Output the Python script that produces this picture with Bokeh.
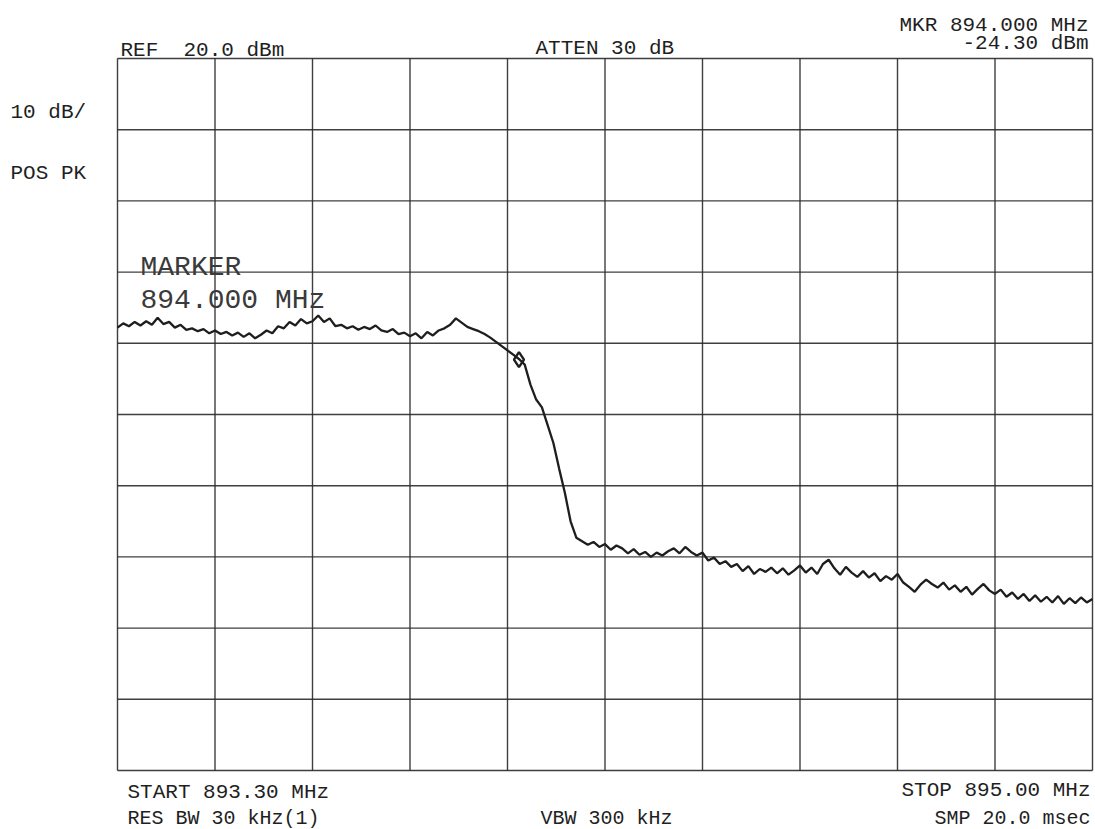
import numpy as np
from bokeh.plotting import figure
from bokeh.models import Range1d, Label
from bokeh.embed import file_html
from bokeh.resources import INLINE

# ---- instrument settings ----
start_mhz = 893.30
stop_mhz = 895.00
ref_dbm = 20.0
db_per_div = 10.0
n_div = 10

# ---- sweep trace, one value every 0.01 MHz ----
freq_mhz = np.round(np.arange(171) * 0.01 + start_mhz, 3)
level_dbm = [
    -17.8, -17.2, -17.6, -17.0, -17.5, -16.9, -17.4, -16.4, -17.3, -17.0,
    -17.8, -17.4, -18.1, -17.9, -18.3, -18.0, -18.6, -18.2, -18.7, -18.4,
    -18.9, -18.5, -19.1, -18.6, -19.3, -18.8, -18.2, -18.6, -17.6, -17.9,
    -17.0, -17.5, -16.6, -17.2, -16.9, -16.1, -17.0, -16.5, -17.6, -17.4,
    -17.9, -17.6, -18.1, -17.7, -18.0, -17.5, -18.2, -18.4, -18.0, -18.7,
    -18.5, -19.0, -18.6, -19.3, -18.4, -18.9, -18.2, -17.9, -17.4, -16.5,
    -17.1, -17.7, -18.0, -18.3, -18.7, -19.2, -19.8, -20.4, -21.0, -21.6,
    -22.2, -23.0, -25.8, -27.9, -29.0, -31.5, -34.0, -37.6, -41.0, -45.0,
    -47.3, -47.8, -48.3, -47.9, -48.6, -48.2, -49.0, -48.4, -48.8, -49.5,
    -48.9, -49.7, -49.3, -50.0, -49.4, -49.8, -49.2, -48.8, -49.5, -48.6,
    -49.3, -49.8, -49.4, -50.5, -50.1, -51.0, -50.6, -51.4, -51.0, -52.0,
    -51.3, -52.4, -51.7, -52.1, -51.5, -52.3, -51.6, -52.5, -51.9, -51.2,
    -52.2, -51.5, -52.4, -51.0, -50.4, -51.6, -52.5, -51.4, -52.2, -52.8,
    -52.0, -52.9, -52.3, -53.4, -52.7, -53.2, -52.4, -53.6, -54.2, -54.9,
    -53.9, -53.2, -53.8, -54.3, -53.6, -54.6, -54.0, -54.9, -54.2, -55.3,
    -54.5, -53.8, -54.7, -55.2, -54.6, -55.6, -55.0, -55.9, -55.2, -56.2,
    -55.4, -56.3, -55.6, -56.4, -55.5, -56.6, -55.8, -56.5, -55.7, -56.4,
    -55.9,
]

# ---- marker ----
marker_freq = [894.000]
marker_level = [-22.3]

# ---- texts ----
NB = "\u00a0"
top_left_text = "REF" + NB + NB + "20.0 dBm"
top_mid_text = "ATTEN 30 dB"
mkr_line1 = "MKR 894.000 MHz"
mkr_line2 = "-24.30 dBm"
side_text1 = "10 dB/"
side_text2 = "POS PK"
start_text = "START 893.30 MHz"
stop_text = "STOP 895.00 MHz"
rbw_text = "RES BW 30 kHz(1)"
vbw_text = "VBW 300 kHz"
swp_text = "SMP 20.0 msec"
marker_text1 = "MARKER"
marker_text2 = "894.000 MHz"

# ---- layout: the frame covers the whole canvas, graticule placed inside ----
W, H = 1095, 829
GL, GT, GW, GH = 117, 58, 975, 712      # graticule box in pixels
y_bot = ref_dbm - db_per_div * n_div
span = stop_mhz - start_mhz
kx = span / GW
ky = (ref_dbm - y_bot) / GH
x0 = start_mhz - GL * kx
x1 = start_mhz + (W - GL) * kx
y1 = ref_dbm + GT * ky
y0 = ref_dbm - (H - GT) * ky

p = figure(width=W, height=H, output_backend="svg", toolbar_location=None,
           x_axis_type=None, y_axis_type=None,
           x_range=Range1d(x0, x1), y_range=Range1d(y0, y1),
           min_border=0)
p.background_fill_color = "white"
p.border_fill_color = "white"
p.outline_line_color = None
p.grid.visible = False

xt = [start_mhz + span * i / n_div for i in range(n_div + 1)]
yt = [y_bot + db_per_div * i for i in range(n_div + 1)]
grid_style = dict(line_color="#2a2a2a", line_width=1.4, line_alpha=0.9)
p.segment(x0=xt, y0=[y_bot] * len(xt), x1=xt, y1=[ref_dbm] * len(xt), **grid_style)
p.segment(x0=[start_mhz] * len(yt), y0=yt, x1=[stop_mhz] * len(yt), y1=yt, **grid_style)

p.line(freq_mhz, level_dbm, line_color="#1e1e1e", line_width=2.3)
p.scatter(marker_freq, marker_level, marker="diamond", size=15,
          fill_color=None, line_color="#1e1e1e", line_width=2.4)


def to_data(fx, fy):
    """canvas pixel -> data coords (text placement only)"""
    return x0 + fx * kx, y1 - fy * ky


def add_text(txt, fx, fy, align="left", size="21px", font="Liberation Mono",
             color="#1f1f1f", style="normal"):
    x, y = to_data(fx, fy)
    p.add_layout(Label(x=x, y=y, text=txt, text_align=align,
                       text_baseline="alphabetic", text_font=font,
                       text_font_size=size, text_color=color,
                       text_font_style=style))


add_text(top_left_text, 120, 50)
add_text(top_mid_text, 535, 48)
add_text(mkr_line1, 1088, 25, align="right")
add_text(mkr_line2, 1088, 43, align="right")
add_text(side_text1, 10, 112)
add_text(side_text2, 10, 173)
add_text(start_text, 127, 792)
add_text(rbw_text, 127, 818, size="20px")
add_text(vbw_text, 540, 818, size="20px")
add_text(stop_text, 1090, 790, align="right")
add_text(swp_text, 1090, 818, align="right", size="20px")
add_text(marker_text1, 140, 267, size="28px", color="#3a3a3a")
add_text(marker_text2, 140, 300, size="28px", color="#3a3a3a")

open("out.html", "w").write(file_html(p, INLINE))
